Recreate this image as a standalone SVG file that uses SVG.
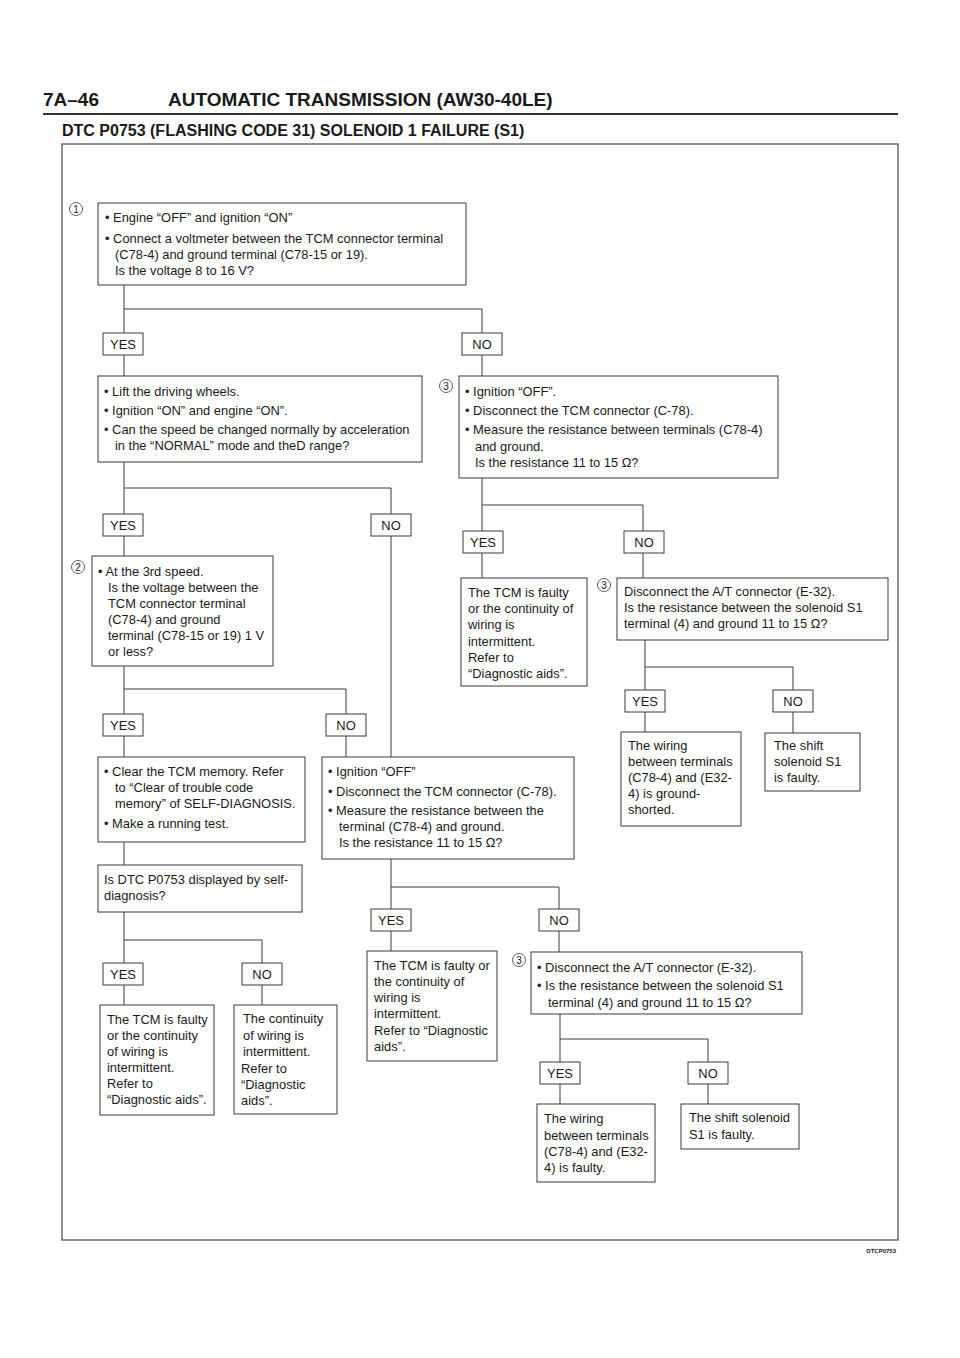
<svg xmlns="http://www.w3.org/2000/svg" width="960" height="1358" viewBox="0 0 960 1358">
<style>
.b{fill:#fff;stroke:#3a3a3a;stroke-width:1}
.c{fill:none;stroke:#3a3a3a;stroke-width:1}
text{font-family:"Liberation Sans",Arial,Helvetica,sans-serif;fill:#1a1a1a}
.t{font-size:12.9px}
.yn{font-size:12.9px;text-anchor:middle}
.n{fill:#fff;stroke:#3a3a3a;stroke-width:0.8}
.nt{font-size:10px;text-anchor:middle}
</style>
<rect width="960" height="1358" fill="#fff"/>
<g id="header">
<text x="43" y="106" font-size="19" font-weight="bold">7A–46</text>
<text x="168" y="106" font-size="19" font-weight="bold">AUTOMATIC TRANSMISSION (AW30-40LE)</text>
<line x1="43" y1="114" x2="898" y2="114" stroke="#333" stroke-width="2"/>
<text x="62" y="136" font-size="16" font-weight="bold">DTC P0753 (FLASHING CODE 31) SOLENOID 1 FAILURE (S1)</text>
<rect x="62" y="144" width="836" height="1096" fill="none" stroke="#555" stroke-width="1.3"/>
<text x="896" y="1253" font-size="6" font-weight="bold" text-anchor="end">DTCP0753</text>
</g>
<g id="connectors">
<path class="c" d="M124 285V333M124 309H482V333M124 355V376M482 355V376"/>
<path class="c" d="M124 462V514M124 488H391V514M124 536V556M391 536V757"/>
<path class="c" d="M482 478V531M482 505H643V531M482 553V578M643 553V578"/>
<path class="c" d="M645 640V690M645 667H793V690M645 712V732M793 712V733"/>
<path class="c" d="M124 666V714M124 689H346V714M124 736V757M346 736V757"/>
<path class="c" d="M124 842V865M124 912V963M124 940H262V963M124 985V1005M262 985V1005"/>
<path class="c" d="M391 859V909M391 887H559V909M391 931V951M559 931V952"/>
<path class="c" d="M560 1014V1062M560 1039H708V1062M560 1084V1104M708 1084V1104"/>
</g>
<g id="yesno">
<rect class="b" x="103" y="333" width="40" height="22"/><text class="yn" x="123" y="349">YES</text>
<rect class="b" x="462" y="333" width="40" height="22"/><text class="yn" x="482" y="349">NO</text>
<rect class="b" x="103" y="514" width="40" height="22"/><text class="yn" x="123" y="530">YES</text>
<rect class="b" x="371" y="514" width="40" height="22"/><text class="yn" x="391" y="530">NO</text>
<rect class="b" x="463" y="531" width="40" height="22"/><text class="yn" x="483" y="547">YES</text>
<rect class="b" x="624" y="531" width="40" height="22"/><text class="yn" x="644" y="547">NO</text>
<rect class="b" x="625" y="690" width="40" height="22"/><text class="yn" x="645" y="706">YES</text>
<rect class="b" x="773" y="690" width="40" height="22"/><text class="yn" x="793" y="706">NO</text>
<rect class="b" x="103" y="714" width="40" height="22"/><text class="yn" x="123" y="730">YES</text>
<rect class="b" x="326" y="714" width="40" height="22"/><text class="yn" x="346" y="730">NO</text>
<rect class="b" x="103" y="963" width="40" height="22"/><text class="yn" x="123" y="979">YES</text>
<rect class="b" x="242" y="963" width="40" height="22"/><text class="yn" x="262" y="979">NO</text>
<rect class="b" x="371" y="909" width="40" height="22"/><text class="yn" x="391" y="925">YES</text>
<rect class="b" x="539" y="909" width="40" height="22"/><text class="yn" x="559" y="925">NO</text>
<rect class="b" x="540" y="1062" width="40" height="22"/><text class="yn" x="560" y="1078">YES</text>
<rect class="b" x="688" y="1062" width="40" height="22"/><text class="yn" x="708" y="1078">NO</text>
</g>
<g id="step1">
<circle class="n" cx="76" cy="209" r="6.5"/><text class="nt" x="76" y="212.5">1</text>
<rect class="b" x="98" y="203" width="368" height="82"/>
<text class="t" x="105" y="222">• Engine “OFF” and ignition “ON”</text>
<text class="t" x="105" y="243">• Connect a voltmeter between the TCM connector terminal</text>
<text class="t" x="115" y="259">(C78-4) and ground terminal (C78-15 or 19).</text>
<text class="t" x="115" y="275">Is the voltage 8 to 16 V?</text>
</g>
<g id="lift">
<rect class="b" x="98" y="376" width="324" height="86"/>
<text class="t" x="104" y="396">• Lift the driving wheels.</text>
<text class="t" x="104" y="415">• Ignition “ON” and engine “ON”.</text>
<text class="t" x="104" y="434">• Can the speed be changed normally by acceleration</text>
<text class="t" x="115" y="450">in the “NORMAL” mode and theD range?</text>
</g>
<g id="step3a">
<circle class="n" cx="446" cy="386" r="6.5"/><text class="nt" x="446" y="389.5">3</text>
<rect class="b" x="459" y="376" width="319" height="102"/>
<text class="t" x="465" y="396">• Ignition “OFF”.</text>
<text class="t" x="465" y="415">• Disconnect the TCM connector (C-78).</text>
<text class="t" x="465" y="434">• Measure the resistance between terminals (C78-4)</text>
<text class="t" x="475" y="451">and ground.</text>
<text class="t" x="475" y="467">Is the resistance 11 to 15 Ω?</text>
</g>
<g id="step2">
<circle class="n" cx="78" cy="567" r="6.5"/><text class="nt" x="78" y="570.5">2</text>
<rect class="b" x="92" y="556" width="181" height="110"/>
<text class="t" x="98" y="576">• At the 3rd speed.</text>
<text class="t" x="108" y="592">Is the voltage between the</text>
<text class="t" x="108" y="608">TCM connector terminal</text>
<text class="t" x="108" y="624">(C78-4) and ground</text>
<text class="t" x="108" y="640">terminal (C78-15 or 19) 1 V</text>
<text class="t" x="108" y="656">or less?</text>
</g>
<g id="tcm1">
<rect class="b" x="461" y="578" width="126" height="108"/>
<text class="t" x="468" y="597">The TCM is faulty</text>
<text class="t" x="468" y="613">or the continuity of</text>
<text class="t" x="468" y="629">wiring is</text>
<text class="t" x="468" y="646">intermittent.</text>
<text class="t" x="468" y="662">Refer to</text>
<text class="t" x="468" y="678">“Diagnostic aids”.</text>
</g>
<g id="step3b">
<circle class="n" cx="604" cy="585" r="6.5"/><text class="nt" x="604" y="588.5">3</text>
<rect class="b" x="617" y="578" width="271" height="62"/>
<text class="t" x="624" y="596">Disconnect the A/T connector (E-32).</text>
<text class="t" x="624" y="612">Is the resistance between the solenoid S1</text>
<text class="t" x="624" y="628">terminal (4) and ground 11 to 15 Ω?</text>
</g>
<g id="wiring1">
<rect class="b" x="621" y="732" width="120" height="94"/>
<text class="t" x="628" y="750">The wiring</text>
<text class="t" x="628" y="766">between terminals</text>
<text class="t" x="628" y="782">(C78-4) and (E32-</text>
<text class="t" x="628" y="798">4) is ground-</text>
<text class="t" x="628" y="814">shorted.</text>
</g>
<g id="shift1">
<rect class="b" x="765" y="733" width="95" height="58"/>
<text class="t" x="774" y="750">The shift</text>
<text class="t" x="774" y="766">solenoid S1</text>
<text class="t" x="774" y="782">is faulty.</text>
</g>
<g id="clear">
<rect class="b" x="98" y="757" width="207" height="85"/>
<text class="t" x="104" y="776">• Clear the TCM memory. Refer</text>
<text class="t" x="115" y="792">to “Clear of trouble code</text>
<text class="t" x="115" y="808">memory” of SELF-DIAGNOSIS.</text>
<text class="t" x="104" y="828">• Make a running test.</text>
</g>
<g id="ign2">
<rect class="b" x="322" y="757" width="252" height="102"/>
<text class="t" x="328" y="776">• Ignition “OFF”</text>
<text class="t" x="328" y="796">• Disconnect the TCM connector (C-78).</text>
<text class="t" x="328" y="815">• Measure the resistance between the</text>
<text class="t" x="339" y="831">terminal (C78-4) and ground.</text>
<text class="t" x="339" y="847">Is the resistance 11 to 15 Ω?</text>
</g>
<g id="dtc">
<rect class="b" x="98" y="865" width="204" height="47"/>
<text class="t" x="104" y="884">Is DTC P0753 displayed by self-</text>
<text class="t" x="104" y="900">diagnosis?</text>
</g>
<g id="tcm2">
<rect class="b" x="100" y="1005" width="114" height="110"/>
<text class="t" x="107" y="1024">The TCM is faulty</text>
<text class="t" x="107" y="1040">or the continuity</text>
<text class="t" x="107" y="1056">of wiring is</text>
<text class="t" x="107" y="1072">intermittent.</text>
<text class="t" x="107" y="1088">Refer to</text>
<text class="t" x="107" y="1104">“Diagnostic aids”.</text>
</g>
<g id="cont">
<rect class="b" x="234" y="1005" width="103" height="109"/>
<text class="t" x="243" y="1023">The continuity</text>
<text class="t" x="243" y="1040">of wiring is</text>
<text class="t" x="243" y="1056">intermittent.</text>
<text class="t" x="241" y="1073">Refer to</text>
<text class="t" x="241" y="1089">“Diagnostic</text>
<text class="t" x="241" y="1105">aids”.</text>
</g>
<g id="tcm3">
<rect class="b" x="367" y="951" width="130" height="110"/>
<text class="t" x="374" y="970">The TCM is faulty or</text>
<text class="t" x="374" y="986">the continuity of</text>
<text class="t" x="374" y="1002">wiring is</text>
<text class="t" x="374" y="1018">intermittent.</text>
<text class="t" x="374" y="1035">Refer to “Diagnostic</text>
<text class="t" x="374" y="1051">aids”.</text>
</g>
<g id="step3c">
<circle class="n" cx="519" cy="960" r="6.5"/><text class="nt" x="519" y="963.5">3</text>
<rect class="b" x="531" y="952" width="271" height="62"/>
<text class="t" x="537" y="972">• Disconnect the A/T connector (E-32).</text>
<text class="t" x="537" y="990">• Is the resistance between the solenoid S1</text>
<text class="t" x="548" y="1007">terminal (4) and ground 11 to 15 Ω?</text>
</g>
<g id="wiring2">
<rect class="b" x="537" y="1104" width="118" height="78"/>
<text class="t" x="544" y="1123">The wiring</text>
<text class="t" x="544" y="1140">between terminals</text>
<text class="t" x="544" y="1156">(C78-4) and (E32-</text>
<text class="t" x="544" y="1172">4) is faulty.</text>
</g>
<g id="shift2">
<rect class="b" x="681" y="1104" width="118" height="45"/>
<text class="t" x="689" y="1122">The shift solenoid</text>
<text class="t" x="689" y="1139">S1 is faulty.</text>
</g>
</svg>
